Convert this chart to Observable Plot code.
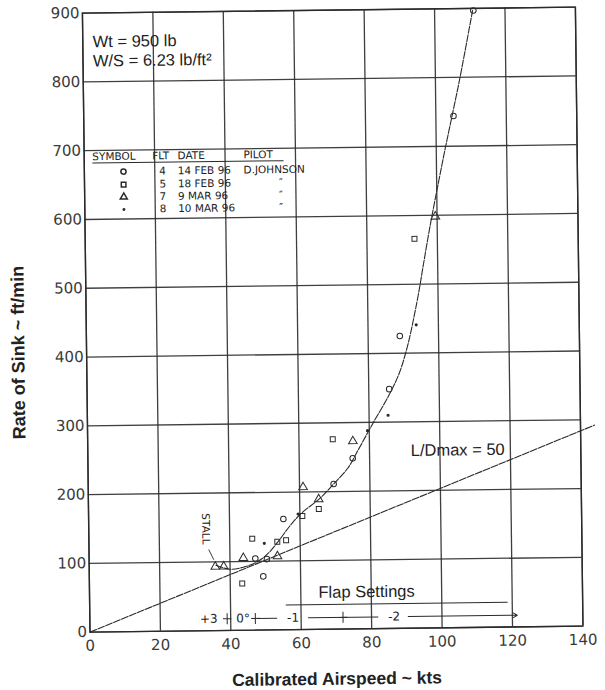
<!DOCTYPE html>
<html><head><meta charset="utf-8">
<script src="https://cdn.jsdelivr.net/npm/d3@7"></script>
<script src="https://cdn.jsdelivr.net/npm/@observablehq/plot@0.6"></script>
<style>
body{margin:0;background:#fff;}
#chart{width:605px;height:690px;transform:rotate(-0.7deg);transform-origin:302.5px 345px;}
</style></head><body><div id="chart"></div>
<script>
// ---- axes ----
const xTicks = [0, 20, 40, 60, 80, 100, 120, 140];
const yTicks = [0, 100, 200, 300, 400, 500, 600, 700, 800, 900];

// ---- flight test data (airspeed kts, sink ft/min) ----
const flt4V = [111, 105, 89, 85.8, 75.2, 69.7, 55.3, 47.2, 50.5, 49.4];      // circle
const flt4S = [897, 744, 425, 348, 248, 211, 161, 104, 103, 78];
const flt5V = [93.5, 69.6, 65.4, 60.7, 46.4, 53.5, 56, 43.4];                // square
const flt5S = [566, 276, 175, 165, 133, 128, 130, 68];
const flt7V = [99.5, 75.3, 61, 65.4, 43.8, 53.5, 35.8, 38.2];                // triangle
const flt7S = [598, 273, 207, 189, 105, 107, 93, 93];
const flt8V = [93.7, 85.4, 79.5, 49.8, 59.5];                                // dot
const flt8S = [441, 310, 288, 126, 168];

// ---- faired polar curve ----
const curveV = [36, 40, 44, 48, 51, 54, 57, 60.2, 65.9, 69.5, 73.8, 77, 81, 85.8, 88.8, 91.3, 93.2, 94.6, 96, 98, 100.4, 102.6, 104.6, 107, 110.8];
const curveS = [95, 89, 92, 100, 112, 130, 150, 168, 191, 210, 234, 262, 298, 340, 372, 413, 455, 490, 530, 585, 645, 698, 744, 800, 897];

// ---- L/Dmax = 50 tangent line ----
const ldV = [0, 144];
const ldS = [0, 292];

// ---- annotations ----
const noteText = ["Wt = 950 lb", "W/S = 6.23 lb/ft²", "L/Dmax = 50", "Flap Settings"];
const noteV = [2.8, 2.8, 91.7, 65];
const noteS = [858, 830, 258, 53.5];

// ---- flap settings scale ----
const flapLabels = ["+3", "0°", "-1", "-2"];
const flapLabelV = [33.8, 43.5, 57.7, 86.4];
const flapTickV = [39, 47, 71.9];
const flapSegV1 = [47.6, 62];
const flapSegV2 = [53.2, 81.9];
const flapArrowV = [90.4, 121.4];
const flapRowS = 17;
const flapUnderV = [55.7, 118.7];
const flapUnderS = 36;

// ---- symbol table ----
const tableHeader = ["SYMBOL", "FLT", "DATE", "PILOT"];
const tableHeaderV = [2.3, 19.3, 26.5, 45.2];
const tableHeaderS = 691;
const tableFlt = ["4", "5", "7", "8"];
const tableDate = ["14 FEB 96", "18 FEB 96", "9 MAR 96", "10 MAR 96"];
const tablePilot = ["D.JOHNSON", "″", "″", "″"];
const tableRowS = [669, 650, 632, 614];
const tableSymbol = ["circle", "square", "triangle", "dot"];

// ---- stall note ----
const stallText = "STALL";
const stallV = 33.2, stallS = 148;
const stallLeadV = [34, 35.4], stallLeadS = [118, 103];

const ink = "#2a2a2a";
const txt = "#222";
const pts = (V, S) => V.map((v, i) => ({v, s: S[i]}));

const hollow = (V, S, symbol, r) => Plot.dot(pts(V, S), {x: "v", y: "s", symbol, r, stroke: ink, strokeWidth: 1, fill: "none"});

const tableRows = tableFlt.map((f, i) => ({f, date: tableDate[i], pilot: tablePilot[i], s: tableRowS[i], sym: tableSymbol[i]}));

const chart = Plot.plot({
  width: 605, height: 690,
  marginLeft: 86, marginRight: 26, marginTop: 10, marginBottom: 61,
  x: {domain: [0, 140], ticks: xTicks, tickSize: 0, tickPadding: 8, label: null, tickFormat: d => String(d)},
  y: {domain: [0, 900], ticks: yTicks, tickSize: 0, tickPadding: 3, label: null, tickFormat: d => String(d)},
  style: {fontFamily: "DejaVu Sans", fontSize: "15px", color: "#3a3a3a", background: "#fff"},
  marks: [
    Plot.ruleX(xTicks, {stroke: ink, strokeWidth: 1.3, strokeOpacity: 0.9}),
    Plot.ruleY(yTicks, {stroke: ink, strokeWidth: 1.3, strokeOpacity: 0.9}),
    Plot.frame({stroke: ink, strokeWidth: 1.4}),
    // L/D line
    Plot.line(pts(ldV, ldS), {x: "v", y: "s", stroke: ink, strokeWidth: 1.1, strokeDasharray: "7,1.5"}),
    // faired curve
    Plot.line(pts(curveV, curveS), {x: "v", y: "s", curve: "catmull-rom", stroke: ink, strokeWidth: 1.1, strokeDasharray: "7,1.5"}),
    // data
    hollow(flt4V, flt4S, "circle", 2.8),
    hollow(flt5V, flt5S, "square", 2.8),
    hollow(flt7V, flt7S, "triangle", 3.2),
    Plot.dot(pts(flt8V, flt8S), {x: "v", y: "s", r: 1.6, fill: ink}),
    // annotations
    Plot.text(noteText.map((t, i) => ({t, v: noteV[i], s: noteS[i]})), {x: "v", y: "s", text: "t", textAnchor: "start", fontSize: 16.5, fontFamily: "Liberation Sans", fill: txt}),
    // flap row
    Plot.text(flapLabels.map((t, i) => ({t, v: flapLabelV[i]})), {x: "v", y: () => flapRowS, text: "t", fontSize: 12, fill: txt}),
    Plot.link(flapTickV, {x1: d => d, x2: d => d, y1: flapRowS - 8, y2: flapRowS + 8, stroke: ink, strokeWidth: 1}),
    Plot.link(flapTickV, {x1: d => d - 1.2, x2: d => d + 1.2, y1: flapRowS, y2: flapRowS, stroke: ink, strokeWidth: 1}),
    Plot.link(flapSegV1.map((a, i) => ({a, b: flapSegV2[i]})), {x1: "a", x2: "b", y1: flapRowS, y2: flapRowS, stroke: ink, strokeWidth: 1}),
    Plot.arrow([flapArrowV], {x1: d => d[0], x2: d => d[1], y1: flapRowS, y2: flapRowS, stroke: ink, strokeWidth: 1, headLength: 7}),
    Plot.link([flapUnderV], {x1: d => d[0], x2: d => d[1], y1: flapUnderS, y2: flapUnderS, stroke: ink, strokeWidth: 1}),
    // symbol table
    Plot.text(tableHeader.map((t, i) => ({t, v: tableHeaderV[i]})), {x: "v", y: () => tableHeaderS, text: "t", textAnchor: "start", fontSize: 10.5, fill: txt}),
    Plot.link([[2.3, 56.6]], {x1: d => d[0], x2: d => d[1], y1: tableHeaderS - 9, y2: tableHeaderS - 9, stroke: ink, strokeWidth: 1}),
    Plot.dot(tableRows.filter(d => d.sym !== "dot"), {x: () => 11.1, y: "s", symbol: "sym", r: 2.6, stroke: ink, fill: "none"}),
    Plot.dot(tableRows.filter(d => d.sym === "dot"), {x: () => 11.1, y: "s", r: 1.5, fill: ink}),
    Plot.text(tableRows, {x: () => 22.2, y: "s", text: "f", fontSize: 10.5, fill: txt}),
    Plot.text(tableRows, {x: () => 26.5, y: "s", text: "date", textAnchor: "start", fontSize: 10.5, fill: txt}),
    Plot.text(tableRows, {x: d => d.pilot === "″" ? 55.2 : 45.2, y: "s", text: "pilot", textAnchor: "start", fontSize: 10.5, fill: txt}),
    // stall
    Plot.text([stallText], {x: () => stallV, y: () => stallS, text: d => d, rotate: 90, fontSize: 10.5, fill: txt}),
    Plot.link([0], {x1: () => stallLeadV[0], x2: () => stallLeadV[1], y1: () => stallLeadS[0], y2: () => stallLeadS[1], stroke: ink, strokeWidth: 0.9}),
    // axis titles
    Plot.text(["Calibrated Airspeed ~ kts"], {frameAnchor: "bottom", dy: 50, textAnchor: "middle", lineAnchor: "middle", text: d => d, fontSize: 17.5, fontWeight: "bold", fontFamily: "Liberation Sans", fill: txt}),
    Plot.text(["Rate of Sink ~ ft/min"], {frameAnchor: "left", dx: -68, dy: 29, rotate: -90, textAnchor: "middle", lineAnchor: "middle", text: d => d, fontSize: 18, fontWeight: "bold", fontFamily: "Liberation Sans", fill: txt})
  ]
});
document.getElementById("chart").append(chart);
</script></body></html>
